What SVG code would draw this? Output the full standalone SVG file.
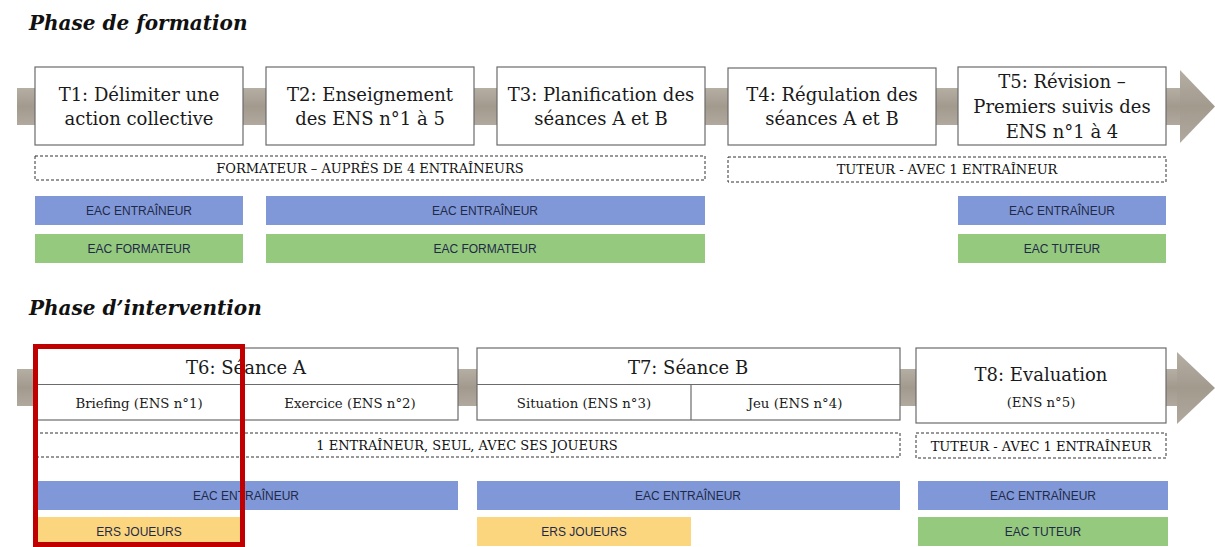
<svg xmlns="http://www.w3.org/2000/svg" width="1215" height="547" viewBox="0 0 1215 547">
<defs>
<linearGradient id="band" x1="0" y1="0" x2="0" y2="1">
<stop offset="0" stop-color="#b5aea3"/><stop offset="0.5" stop-color="#a39a8e"/><stop offset="1" stop-color="#b1a99e"/>
</linearGradient>
<style>
.title{font-family:"DejaVu Serif",serif;font-weight:bold;font-style:italic;font-size:20px;fill:#111}
.box{fill:#fff;stroke:#6b6b6b;stroke-width:1.2}
.t{font-family:"DejaVu Serif",serif;font-size:18px;fill:#1a1a1a;text-anchor:middle}
.s{font-family:"DejaVu Serif",serif;font-size:13.3px;fill:#1a1a1a;text-anchor:middle}
.d{fill:#fff;stroke:#333;stroke-width:1;stroke-dasharray:3 2}
.dt{font-family:"DejaVu Serif",serif;font-size:13px;fill:#111;text-anchor:middle}
.blue{fill:#8198d8}
.green{fill:#95c97e}
.orange{fill:#fbd67f}
.b{font-family:"Liberation Sans",sans-serif;font-size:12px;fill:#1f2a48;text-anchor:middle}
.band{fill:url(#band)}
</style>
</defs>
<rect width="1215" height="547" fill="#fff"/>
<text class="title" x="29" y="30">Phase de formation</text>
<text class="title" x="29" y="315">Phase d’intervention</text>
<g id="connectors">
<rect class="band" x="17" y="88" width="1165" height="37"/>
<polygon class="band" points="1180,70 1215,106.5 1180,143"/>
<rect class="band" x="17" y="369" width="1162" height="37"/>
<polygon class="band" points="1177,352 1215,388 1177,424"/>
</g>
<g id="T1"><rect class="box" x="35" y="67" width="208" height="78"/>
<text class="t" x="139" y="101">T1: Délimiter une</text><text class="t" x="139" y="125">action collective</text></g>
<g id="T2"><rect class="box" x="266" y="67" width="208" height="78"/>
<text class="t" x="370" y="101">T2: Enseignement</text><text class="t" x="370" y="125">des ENS n°1 à 5</text></g>
<g id="T3"><rect class="box" x="497" y="67" width="208" height="78"/>
<text class="t" x="601" y="101">T3: Planification des</text><text class="t" x="601" y="125">séances A et B</text></g>
<g id="T4"><rect class="box" x="728" y="68" width="208" height="77"/>
<text class="t" x="832" y="101">T4: Régulation des</text><text class="t" x="832" y="125">séances A et B</text></g>
<g id="T5"><rect class="box" x="958" y="67" width="208" height="78"/>
<text class="t" x="1062" y="88">T5: Révision –</text><text class="t" x="1062" y="113">Premiers suivis des</text><text class="t" x="1062" y="138">ENS n°1 à 4</text></g>
<g id="role-formation"><rect class="d" x="35" y="156" width="670" height="24"/><text class="dt" x="370" y="172.5">FORMATEUR – AUPRÈS DE 4 ENTRAÎNEURS</text></g>
<g id="role-tuteur1"><rect class="d" x="728" y="157" width="438" height="25"/><text class="dt" x="947" y="174">TUTEUR - AVEC 1 ENTRAÎNEUR</text></g>
<g id="eac-e1"><rect class="blue" x="35" y="196" width="208" height="29"/><text class="b" x="139" y="215">EAC ENTRAÎNEUR</text></g>
<g id="eac-e2"><rect class="blue" x="266" y="196" width="439" height="29"/><text class="b" x="485" y="215">EAC ENTRAÎNEUR</text></g>
<g id="eac-e3"><rect class="blue" x="958" y="196" width="208" height="29"/><text class="b" x="1062" y="215">EAC ENTRAÎNEUR</text></g>
<g id="eac-f1"><rect class="green" x="35" y="234" width="208" height="29"/><text class="b" x="139" y="253">EAC FORMATEUR</text></g>
<g id="eac-f2"><rect class="green" x="266" y="234" width="439" height="29"/><text class="b" x="485" y="253">EAC FORMATEUR</text></g>
<g id="eac-t1"><rect class="green" x="958" y="234" width="208" height="29"/><text class="b" x="1062" y="253">EAC TUTEUR</text></g>
<g id="T6"><rect class="box" x="35" y="348" width="423" height="72"/><line x1="35" y1="384.5" x2="458" y2="384.5" stroke="#6b6b6b" stroke-width="1.2"/>
<text class="t" x="246" y="374">T6: Séance A</text><text class="s" x="139" y="408">Briefing (ENS n°1)</text><text class="s" x="350" y="408">Exercice (ENS n°2)</text></g>
<g id="T7"><rect class="box" x="477" y="348" width="423" height="72"/><line x1="477" y1="384.5" x2="900" y2="384.5" stroke="#6b6b6b" stroke-width="1.2"/><line x1="691" y1="384.5" x2="691" y2="420" stroke="#6b6b6b" stroke-width="1.2"/>
<text class="t" x="688" y="374">T7: Séance B</text><text class="s" x="584" y="408">Situation (ENS n°3)</text><text class="s" x="795" y="408">Jeu (ENS n°4)</text></g>
<g id="T8"><rect class="box" x="916" y="348" width="250" height="75"/>
<text class="t" x="1041" y="381">T8: Evaluation</text><text class="s" x="1041" y="407">(ENS n°5)</text></g>
<g id="role-entraineur"><rect class="d" x="35" y="433" width="865" height="24"/><text class="dt" x="467" y="449.5">1 ENTRAÎNEUR, SEUL, AVEC SES JOUEURS</text></g>
<g id="role-tuteur2"><rect class="d" x="916" y="433" width="250" height="25"/><text class="dt" x="1041" y="450.5">TUTEUR - AVEC 1 ENTRAÎNEUR</text></g>
<g id="eac-e4"><rect class="blue" x="35" y="481" width="423" height="29"/><text class="b" x="246" y="500">EAC ENTRAÎNEUR</text></g>
<g id="eac-e5"><rect class="blue" x="477" y="481" width="423" height="29"/><text class="b" x="688" y="500">EAC ENTRAÎNEUR</text></g>
<g id="eac-e6"><rect class="blue" x="918" y="481" width="250" height="29"/><text class="b" x="1043" y="500">EAC ENTRAÎNEUR</text></g>
<g id="ers1"><rect class="orange" x="35" y="517" width="208" height="29"/><text class="b" x="139" y="536">ERS JOUEURS</text></g>
<g id="ers2"><rect class="orange" x="477" y="517" width="214" height="29"/><text class="b" x="584" y="536">ERS JOUEURS</text></g>
<g id="eac-t2"><rect class="green" x="918" y="517" width="250" height="29"/><text class="b" x="1043" y="536">EAC TUTEUR</text></g>
<g id="highlight"><rect x="35.5" y="346.5" width="207" height="198" fill="none" stroke="#c00000" stroke-width="5"/></g>
</svg>
